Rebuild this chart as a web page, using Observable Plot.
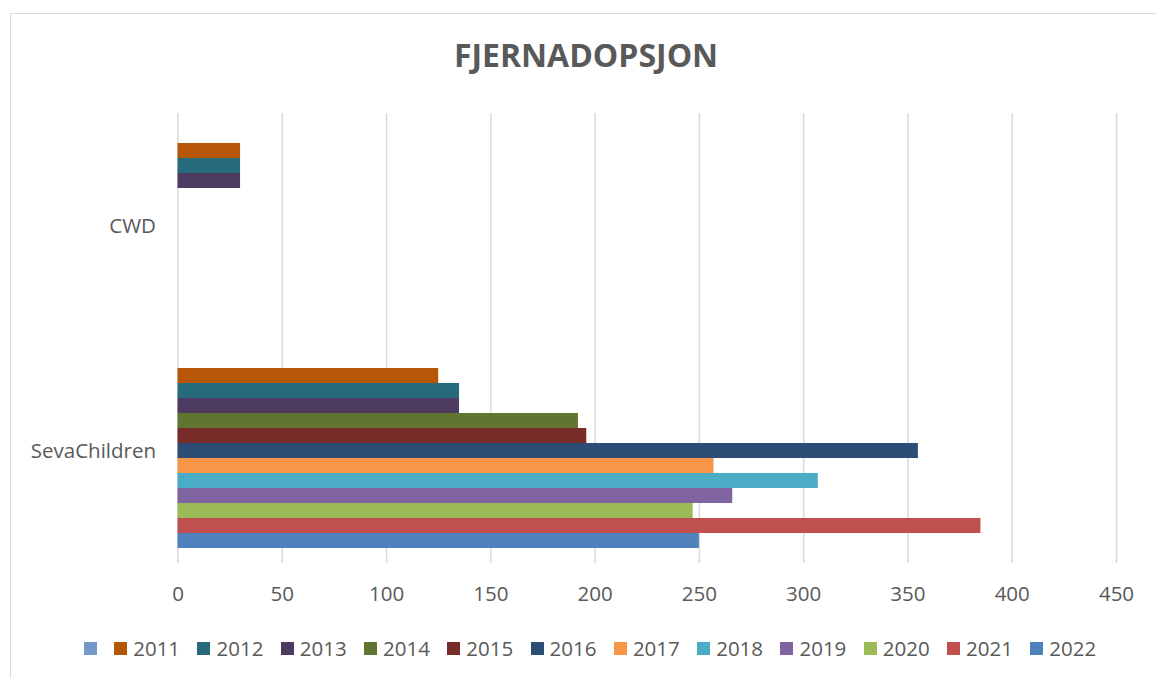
<!DOCTYPE html>
<html>
<head>
<meta charset="utf-8">
<script src="https://cdn.jsdelivr.net/npm/d3@7"></script>
<script src="https://cdn.jsdelivr.net/npm/@observablehq/plot@0.6"></script>
<style>
  body { margin: 0; background: #fff; font-family: "Open Sans", sans-serif; }
  #wrap { position: relative; width: 1156px; height: 678px; overflow: hidden; background: #fff; }
  #frame { position: absolute; left: 10px; top: 13px; width: 1170px; height: 700px; border: 1.5px solid #d9d9d9; box-sizing: border-box; }
  #chart { position: absolute; left: 0; top: 0; }
  #title { position: absolute; left: 10px; width: 1152px; top: 33px; text-align: center; font-weight: 700; font-size: 32px; color: #595959; }
  #legend { position: absolute; left: 10px; width: 1160px; top: 638px; display: flex; justify-content: center; align-items: center; gap: 17.4px; font-size: 20.5px; line-height: 20px; color: #595959; }
  .item { display: flex; align-items: center; }
  .sw { width: 13px; height: 13px; display: inline-block; }
  .lbl { margin-left: 6px; }
</style>
</head>
<body>
<div id="wrap">
  <div id="frame"></div>
  <div id="chart"></div>
  <div id="title">FJERNADOPSJON</div>
  <div id="legend"></div>
</div>
<script>
const categories = ["CWD", "SevaChildren"];
const seriesNames = ["", "2011", "2012", "2013", "2014", "2015", "2016", "2017", "2018", "2019", "2020", "2021", "2022"];
const cwdValues = [null, 30, 30, 30, null, null, null, null, null, null, null, null, null];
const sevaChildrenValues = [null, 125, 135, 135, 192, 196, 355, 257, 307, 266, 247, 385, 250];
const seriesColors = ["#7399c9", "#b65708", "#276a7c", "#4d3b62", "#5f7530", "#772c2a", "#2c4d75",
                      "#f79646", "#4bacc6", "#8064a2", "#9bbb59", "#c0504d", "#4f81bd"];
const xTicks = [0, 50, 100, 150, 200, 250, 300, 350, 400, 450];

const valuesByCategory = [cwdValues, sevaChildrenValues];
const rows = categories.flatMap((c, i) =>
  seriesNames.map((s, j) => ({category: c, series: s, value: valuesByCategory[i][j]}))
).filter(d => d.value != null);

const chart = Plot.plot({
  width: 1156,
  height: 620,
  marginTop: 113,
  marginBottom: 57,
  marginLeft: 177.5,
  marginRight: 40,
  style: {fontFamily: "Open Sans, sans-serif", fontSize: "20.5px", color: "#595959", background: "transparent", overflow: "visible"},
  x: {domain: [0, 450], ticks: xTicks, tickSize: 0, tickPadding: 23, label: null},
  y: {domain: seriesNames, axis: null, paddingInner: 0, paddingOuter: 0.885},
  fy: {domain: categories, paddingInner: 0, paddingOuter: 0, axis: "left", tickSize: 0, tickPadding: 22, label: null},
  color: {domain: seriesNames, range: seriesColors},
  facet: {data: rows, y: "category"},
  marks: [
    Plot.ruleX(xTicks, {stroke: "#d9d9d9", strokeWidth: 1.5}),
    Plot.barX(rows, {x: "value", y: "series", fill: "series"})
  ]
});
document.getElementById("chart").appendChild(chart);

const legend = document.getElementById("legend");
seriesNames.forEach((s, i) => {
  const item = document.createElement("div");
  item.className = "item";
  const sw = document.createElement("span");
  sw.className = "sw";
  sw.style.background = seriesColors[i];
  item.appendChild(sw);
  if (s) {
    const t = document.createElement("span");
    t.className = "lbl";
    t.textContent = s;
    item.appendChild(t);
  }
  legend.appendChild(item);
});
</script>
</body>
</html>
